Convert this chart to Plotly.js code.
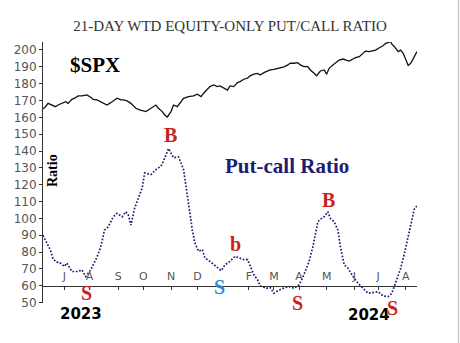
<!DOCTYPE html>
<html>
<head>
<meta charset="utf-8">
<script src="https://cdn.plot.ly/plotly-3.0.1.min.js"></script>
<style>
  html, body { margin: 0; padding: 0; background: #fff; }
  #chart { width: 460px; height: 343px; }
</style>
</head>
<body>
<div id="chart"></div>
<script>
// 21-day weighted equity-only put/call ratio (trading-day axis)
const ratioDates = [
  "2023-06-07","2023-06-12","2023-06-15","2023-06-20","2023-06-23","2023-06-27",
  "2023-07-03","2023-07-06","2023-07-12","2023-07-19","2023-07-24","2023-07-27",
  "2023-08-02","2023-08-09","2023-08-14","2023-08-17","2023-08-22","2023-08-28",
  "2023-08-31","2023-09-07","2023-09-12","2023-09-14","2023-09-18","2023-09-21",
  "2023-09-26","2023-09-29","2023-10-03","2023-10-10","2023-10-16","2023-10-20",
  "2023-10-24","2023-10-30","2023-11-03","2023-11-09","2023-11-15","2023-11-20",
  "2023-11-27","2023-11-29","2023-12-04","2023-12-07","2023-12-11","2023-12-15",
  "2023-12-21","2023-12-29","2024-01-04","2024-01-10","2024-01-17","2024-01-22",
  "2024-01-26","2024-01-31","2024-02-05","2024-02-07","2024-02-12","2024-02-14",
  "2024-02-22","2024-02-27","2024-03-01","2024-03-07","2024-03-14","2024-03-20",
  "2024-03-25","2024-04-01","2024-04-04","2024-04-08","2024-04-11","2024-04-16",
  "2024-04-18","2024-04-22","2024-04-24","2024-04-29","2024-05-02","2024-05-06",
  "2024-05-09","2024-05-14","2024-05-16","2024-05-21","2024-05-24","2024-05-31",
  "2024-06-06","2024-06-12","2024-06-18","2024-06-25","2024-07-01","2024-07-08",
  "2024-07-12","2024-07-17","2024-07-19","2024-07-24","2024-07-26","2024-07-31",
  "2024-08-05","2024-08-08","2024-08-12","2024-08-14"
];
const ratioValues = [
  90, 85, 81, 76, 74, 74,
  71.5, 73.5, 68.5, 68.5, 69.5, 65.5,
  69.5, 77, 83, 93, 95, 101,
  103, 101, 104, 102, 96, 106,
  112, 118, 127, 126, 129, 131,
  134, 141.5, 136, 136.5, 129, 113,
  93, 85.5, 80.5, 81.5, 76.5, 74.5,
  72, 69, 72.5, 74.5, 77.5, 76.5,
  75.5, 75.5, 70.5, 66.5, 63.5, 60,
  58.5, 59, 55.6, 57.5, 59, 59.5,
  58.5, 60.5, 65, 68.5, 74.3, 83,
  90, 98, 99.5, 101, 104, 100,
  98, 93, 83, 72.5, 70.5, 65.5,
  61.5, 58.5, 55.6, 56, 56.5, 54,
  53.6, 55.6, 59.5, 65.4, 70.4, 79.3,
  90, 101, 106, 107.4
];

// S&P 500, rescaled onto the same axis
const spxDates = [
  "2023-06-07","2023-06-09","2023-06-13","2023-06-16","2023-06-22","2023-06-26",
  "2023-06-29","2023-07-05","2023-07-07","2023-07-12","2023-07-17","2023-07-19",
  "2023-07-24","2023-07-28","2023-08-02","2023-08-04","2023-08-09","2023-08-14",
  "2023-08-16","2023-08-21","2023-08-24","2023-08-28","2023-08-31","2023-09-06",
  "2023-09-08","2023-09-13","2023-09-18","2023-09-22","2023-09-27","2023-10-04",
  "2023-10-10","2023-10-16","2023-10-18","2023-10-23","2023-10-25","2023-10-27",
  "2023-11-01","2023-11-03","2023-11-08","2023-11-13","2023-11-15","2023-11-21",
  "2023-11-28","2023-12-01","2023-12-06","2023-12-08","2023-12-13","2023-12-15",
  "2023-12-20","2023-12-26","2023-12-28","2024-01-03","2024-01-08","2024-01-10",
  "2024-01-16","2024-01-19","2024-01-23","2024-01-26","2024-01-31","2024-02-02",
  "2024-02-07","2024-02-12","2024-02-14","2024-02-20","2024-02-23","2024-02-27",
  "2024-03-01","2024-03-06","2024-03-11","2024-03-13","2024-03-18","2024-03-20",
  "2024-03-25","2024-03-28","2024-04-02","2024-04-05","2024-04-10","2024-04-12",
  "2024-04-17","2024-04-19","2024-04-24","2024-04-29","2024-05-01","2024-05-03",
  "2024-05-08","2024-05-10","2024-05-15","2024-05-20","2024-05-22","2024-05-28",
  "2024-05-31","2024-06-04","2024-06-07","2024-06-12","2024-06-14","2024-06-20",
  "2024-06-25","2024-06-27","2024-07-02","2024-07-08","2024-07-10","2024-07-16",
  "2024-07-17","2024-07-19","2024-07-24","2024-07-26","2024-07-30","2024-08-01",
  "2024-08-05","2024-08-07","2024-08-09","2024-08-13","2024-08-14"
];
const spxValues = [
  165.1, 166.3, 168.3, 167.3, 166.3, 167.3,
  168.3, 169.3, 168.3, 170.7, 171.7, 172.7,
  172.7, 173.3, 171.9, 170.7, 170.3, 169.3,
  168.3, 167.3, 168.7, 169.7, 171.3, 170.3,
  170.3, 169.7, 168.3, 165.4, 164.4, 163.4,
  165.4, 167.3, 165.4, 163.4, 161.4, 160.2,
  163.4, 167.3, 166.3, 169.3, 171.3, 172.3,
  172.7, 173.7, 172.3, 174.3, 176.7, 178.2,
  179.2, 178.2, 178.6, 177.2, 176.2, 178.6,
  178.2, 180.6, 181.2, 182.6, 183.2, 184.6,
  185.6, 186.1, 185.1, 186.5, 187.7, 188.1,
  188.5, 189.1, 189.7, 190, 191.1, 192.1,
  192.1, 192.4, 191.1, 190.1, 190.1, 188.1,
  186.1, 184.7, 187.5, 188.1, 185.6, 189.1,
  191.1, 192.1, 194, 194.6, 194, 193.4,
  194.6, 195.4, 196, 198, 199.3, 199,
  199.3, 199.9, 201.3, 202.5, 203.9, 204.9,
  203.4, 201.9, 199, 199.9, 198, 194,
  190.8, 192.1, 195, 197, 199
];

// month ticks: first trading day of each month
const tickDates = [
  "2023-07-03","2023-08-01","2023-09-01","2023-10-02","2023-11-01","2023-12-01",
  "2024-01-02","2024-02-01","2024-03-01","2024-04-01","2024-05-01","2024-06-03",
  "2024-07-01","2024-08-01"
];
const tickLabels = ["J","A","S","O","N","D","","F","M","A","M","J","J","A"];
const yTicks = [50,60,70,80,90,100,110,120,130,140,150,160,170,180,190,200];

const holidays = [
  "2023-06-19","2023-07-04","2023-09-04","2023-11-23","2023-12-25","2024-01-01",
  "2024-01-15","2024-02-19","2024-03-29","2024-05-27","2024-06-19","2024-07-04"
];

const yRange = [49.8, 204.7];
const baseLevel = 60;   // the time axis runs along the 60 line

// plot frame in pixels, used to place the text labels
const L = 43, R = 417, T = 42, B = 303;
const px = x => (x - L) / (R - L);
const py = y => (B - y) / (B - T);

const serif = "Liberation Serif, Times New Roman, serif";
const red = "#cc1f1f";

function label(text, x, y, size, color, extra) {
  return Object.assign({
    text: text, xref: "paper", yref: "paper", x: px(x), y: py(y),
    xanchor: "center", yanchor: "middle", showarrow: false,
    font: {family: serif, size: size, color: color, weight: 700}
  }, extra || {});
}

const traces = [
  {
    x: spxDates, y: spxValues, type: "scatter", mode: "lines",
    line: {color: "#111", width: 1.3}, hoverinfo: "skip"
  },
  {
    x: ratioDates, y: ratioValues, type: "scatter", mode: "lines",
    line: {color: "#1c1c72", width: 1.7, dash: "1.7px,1.7px"}, hoverinfo: "skip"
  }
];

const layout = {
  width: 460, height: 343,
  margin: {l: L, r: 460 - R, t: T, b: 343 - B},
  paper_bgcolor: "#fff", plot_bgcolor: "#fff",
  showlegend: false,
  title: {
    text: "21-DAY WTD EQUITY-ONLY PUT/CALL RATIO",
    font: {family: serif, size: 15, color: "#333"},
    xref: "paper", x: 0.5, xanchor: "center",
    yref: "container", y: 1 - 26 / 343, yanchor: "middle"
  },
  xaxis: {
    type: "date",
    range: [ratioDates[0], ratioDates[ratioDates.length - 1]],
    rangebreaks: [{bounds: ["sat", "mon"]}, {values: holidays}],
    anchor: "free",
    position: (baseLevel - yRange[0]) / (yRange[1] - yRange[0]),
    showline: true, linecolor: "#333", linewidth: 1,
    showgrid: false, zeroline: false,
    tickmode: "array", tickvals: tickDates, ticktext: tickLabels,
    ticks: "outside", ticklen: 3, tickcolor: "#333",
    ticklabelstandoff: -23,
    tickfont: {family: "DejaVu Sans, sans-serif", size: 11, color: "#555"}
  },
  yaxis: {
    range: yRange,
    showline: true, linecolor: "#333", linewidth: 1,
    showgrid: false, zeroline: false,
    tickmode: "array", tickvals: yTicks,
    ticks: "outside", ticklen: 3, tickcolor: "#333",
    tickfont: {family: "DejaVu Sans, sans-serif", size: 12, color: "#555"}
  },
  annotations: [
    label("$SPX", 95, 65, 21, "#000"),
    label("Ratio", 52, 171, 14, "#000", {textangle: -90}),
    label("Put-call Ratio", 287, 166, 21, "#1c1c72"),
    label("B", 170, 135, 20, red),
    label("b", 236, 244, 20, red),
    label("B", 328, 200, 20, red),
    label("S", 86, 293, 20, red),
    label("S", 219, 287, 20, "#2a8ad4"),
    label("S", 297, 303, 20, red),
    {text: "2023", xref: "paper", yref: "paper", x: px(81), y: py(314),
     xanchor: "center", yanchor: "middle", showarrow: false,
     font: {family: "DejaVu Sans, sans-serif", size: 15, color: "#000", weight: 700}},
    {text: "2024", xref: "paper", yref: "paper", x: px(369), y: py(315),
     xanchor: "center", yanchor: "middle", showarrow: false,
     font: {family: "DejaVu Sans, sans-serif", size: 15, color: "#000", weight: 700}},
    label("S", 392, 308, 20, red)
  ],
  shapes: [
    {type: "line", xref: "paper", yref: "paper",
     x0: px(458.5), x1: px(458.5), y0: py(343), y1: py(0),
     line: {color: "#c8c8c8", width: 1.5}}
  ]
};

Plotly.newPlot("chart", traces, layout, {staticPlot: true, displayModeBar: false});
</script>
</body>
</html>
